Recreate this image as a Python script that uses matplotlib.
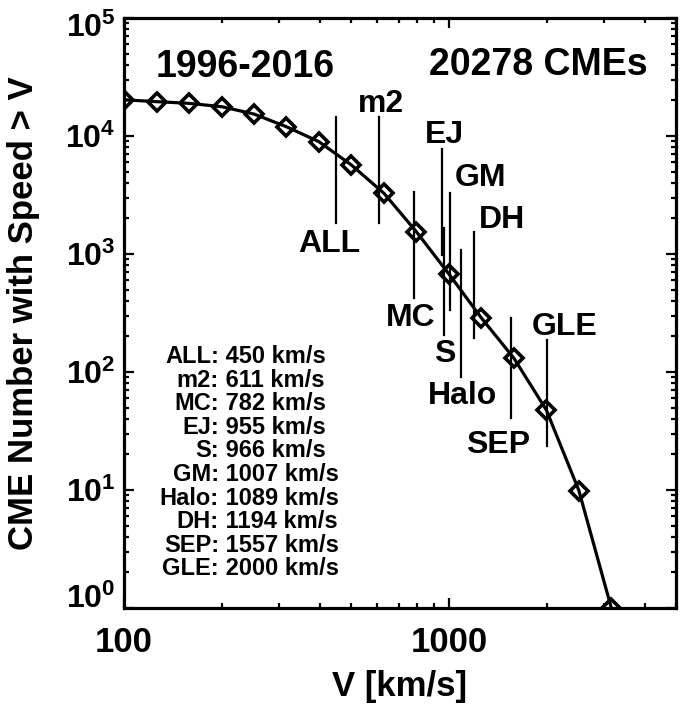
import numpy as np
import matplotlib
matplotlib.use('Agg')
from matplotlib import pyplot as plt
from matplotlib import ticker
from matplotlib.transforms import ScaledTranslation

plt.rcParams['font.family'] = ['Liberation Sans', 'DejaVu Sans']
plt.rcParams['font.weight'] = 'bold'
plt.rcParams['mathtext.fontset'] = 'custom'
plt.rcParams['mathtext.rm'] = 'Liberation Sans:bold'
plt.rcParams['mathtext.bf'] = 'Liberation Sans:bold'
plt.rcParams['mathtext.it'] = 'Liberation Sans:bold'

# cumulative distribution: number of CMEs faster than V
speed_bins = [100, 126, 158, 200, 251, 316, 398, 501, 631, 794,
              1000, 1259, 1585, 1995, 2512, 3162]
counts = [20278, 19540, 18930, 17710, 15360, 11990, 8950, 5680, 3270, 1545,
          677, 287, 131, 47.6, 9.9, 1]

# mean speeds of the CME populations
names = ['ALL', 'm2', 'MC', 'EJ', 'S', 'GM', 'Halo', 'DH', 'SEP', 'GLE']
speeds = [450, 611, 782, 955, 966, 1007, 1089, 1194, 1557, 2000]
bar_top = [14580, 14580, 3370, 7710, 1660, 3310, 1081, 1545, 285, 187]
bar_bot = [1843, 1832, 421, 981, 206, 335, 91, 194, 40.5, 23.6]
# where each name is written (x centre, baseline)
label_x = [427, 616, 762, 970, 970, 1253, 1102, 1454, 1418, 2266]
label_y = [1040, 15960, 245, 8670, 121.5, 3770, 53.6, 1670, 20.6, 206]

fig = plt.figure(figsize=(6.85, 7.08), dpi=100)
ax = fig.add_axes([124/685, 1-608/708, 552/685, 590/708])

ax.plot(speed_bins, counts, color='k', lw=2.3, marker='D', ms=9.5,
        mfc='none', mec='k', mew=2.6)

for i in range(len(names)):
    ax.plot([speeds[i], speeds[i]], [bar_bot[i], bar_top[i]], color='k', lw=1.6)
    ax.text(label_x[i], label_y[i], names[i], ha='center', va='baseline',
            fontsize=23, fontweight='bold')

ax.set_xscale('log')
ax.set_yscale('log')
ax.set_xlim(100, 5000)
ax.set_ylim(1, 1e5)

ax.xaxis.set_major_locator(ticker.FixedLocator([100, 1000]))
ax.xaxis.set_major_formatter(ticker.FormatStrFormatter('%d'))
ax.xaxis.set_minor_locator(ticker.LogLocator(base=10, subs=np.arange(2, 10)))
ax.xaxis.set_minor_formatter(ticker.NullFormatter())
ax.yaxis.set_major_locator(ticker.FixedLocator([1, 10, 100, 1e3, 1e4, 1e5]))
ax.yaxis.set_major_formatter(ticker.FuncFormatter(
    lambda v, p: r'$\mathbf{10^{%d}}$' % round(np.log10(v))))
ax.yaxis.set_minor_locator(ticker.LogLocator(base=10, subs=np.arange(2, 10), numticks=10))
ax.yaxis.set_minor_formatter(ticker.NullFormatter())

ax.tick_params(which='both', direction='in', top=True, right=True, width=1.6)
ax.tick_params(which='major', length=7.5)
ax.tick_params(which='minor', length=3.8)
ax.tick_params(axis='x', which='major', labelsize=25, pad=13)
ax.tick_params(axis='y', which='major', labelsize=23, pad=6)
for sp in ax.spines.values():
    sp.set_linewidth(2.3)

# end labels of the y axis sit inside the axis range, as in the original
yticks = ax.yaxis.get_major_ticks()
yticks[0].label1.set_transform(yticks[0].label1.get_transform()
                               + ScaledTranslation(0, 12/100, fig.dpi_scale_trans))
yticks[-1].label1.set_transform(yticks[-1].label1.get_transform()
                                + ScaledTranslation(0, -7/100, fig.dpi_scale_trans))

ax.set_xlabel('V [km/s]', fontsize=25, fontweight='bold')
ax.xaxis.set_label_coords(0.5, -0.105)
ax.set_ylabel('CME Number with Speed > V', fontsize=25, fontweight='bold')
ax.yaxis.set_label_coords(-0.152, 0.5)

ax.text(0.219, 0.9005, '1996-2016', transform=ax.transAxes, ha='center',
        va='baseline', fontsize=27, fontweight='bold')
ax.text(0.949, 0.9034, '20278 CMEs', transform=ax.transAxes, ha='right',
        va='baseline', fontsize=27, fontweight='bold')

# table of mean speeds, aligned on the colon
for i in range(len(names)):
    yy = 0.4147 - i*0.0399
    ax.text(0.172, yy, names[i] + ':', transform=ax.transAxes, ha='right',
            va='baseline', fontsize=17, fontweight='bold')
    ax.text(0.172, yy, ' %d km/s' % speeds[i], transform=ax.transAxes, ha='left',
            va='baseline', fontsize=17, fontweight='bold')

fig.savefig('out.png', dpi=100)
